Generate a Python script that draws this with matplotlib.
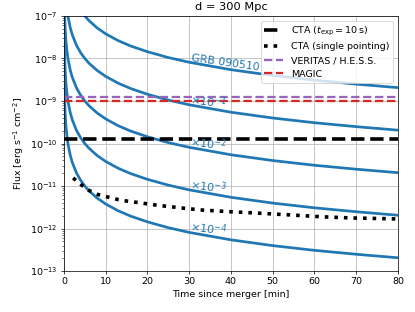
import matplotlib
matplotlib.use("Agg")
import matplotlib.pyplot as plt

plt.rcParams["font.size"] = 10.5

# GRB 090510 light curve scaled to d = 300 Mpc
t_grb = [0.1, 0.2, 0.3, 0.5, 0.7, 1, 1.5, 2, 3, 4, 5, 6, 8, 10, 13, 16,
         20, 25, 30, 40, 50, 60, 70, 80]
flux_grb = [2.39e-5, 9.06e-6, 5.14e-6, 2.51e-6, 1.57e-6, 9.52e-7, 5.40e-7,
            3.61e-7, 2.04e-7, 1.37e-7, 1.00e-7, 7.75e-8, 5.18e-8, 3.79e-8,
            2.62e-8, 1.96e-8, 1.44e-8, 1.05e-8, 8.14e-9, 5.44e-9, 3.98e-9,
            3.08e-9, 2.49e-9, 2.06e-9]
scales = [1, 1e-1, 1e-2, 1e-3, 1e-4]
scale_labels = ["GRB 090510", r"$\mathit{\times10^{-1}}$",
                r"$\mathit{\times10^{-2}}$", r"$\mathit{\times10^{-3}}$",
                r"$\mathit{\times10^{-4}}$"]

# CTA single pointing sensitivity
t_cta = [2.2, 4.0, 6.0, 8.2, 10.6, 13, 15.3, 17.7, 20.1, 22.7, 25.1, 32.5,
         39.6, 46.8, 54, 61.6, 68.7, 78.4, 80]
flux_cta = [1.55e-11, 1.10e-11, 7.9e-12, 6.3e-12, 5.5e-12, 4.8e-12, 4.4e-12,
            4.1e-12, 3.8e-12, 3.5e-12, 3.3e-12, 2.75e-12, 2.5e-12, 2.3e-12,
            2.1e-12, 1.9e-12, 1.78e-12, 1.7e-12, 1.68e-12]

# flat sensitivities
cta_10s = 1.3e-10
veritas_hess = 1.25e-9
magic = 1.0e-9

fig = plt.figure(figsize=(415 / 65, 312 / 65), dpi=65)
ax = fig.add_axes([0.154, 0.131, 0.805, 0.818])

for s in scales:
    ax.plot(t_grb, [f * s for f in flux_grb], color="C0", lw=3)

# labels along the curves
label_pos = [(38.7, 8.0e-9), (34.6, 1.0e-9), (34.6, 1.0e-10),
             (34.6, 1.0e-11), (34.6, 1.0e-12)]
label_size = [12, 12.5, 12.5, 12.5, 12.5]
for (x, y), txt, fs in zip(label_pos, scale_labels, label_size):
    ax.text(x, y, txt, color="C0", fontsize=fs, rotation=-8,
            ha="center", va="center")

ax.axhline(cta_10s, color="black", ls="--", lw=4,
           label=r"CTA ($t_{\rm exp} = 10\,$s)")
ax.plot(t_cta, flux_cta, color="black", ls=":", lw=4,
        label="CTA (single pointing)")
ax.axhline(veritas_hess, color="tab:purple", ls="--", lw=2.5,
           label="VERITAS / H.E.S.S.")
ax.axhline(magic, color="tab:red", ls="--", lw=2.5, label="MAGIC")

ax.set_yscale("log")
ax.set_xlim(0, 80)
ax.set_ylim(1e-13, 1e-7)
ax.grid(True)
ax.set_xlabel("Time since merger [min]")
ax.set_ylabel(r"Flux [erg s$^{-1}$ cm$^{-2}$]")
ax.set_title("d = 300 Mpc")
ax.legend(loc="upper right")

fig.savefig("out.png", dpi=65)
